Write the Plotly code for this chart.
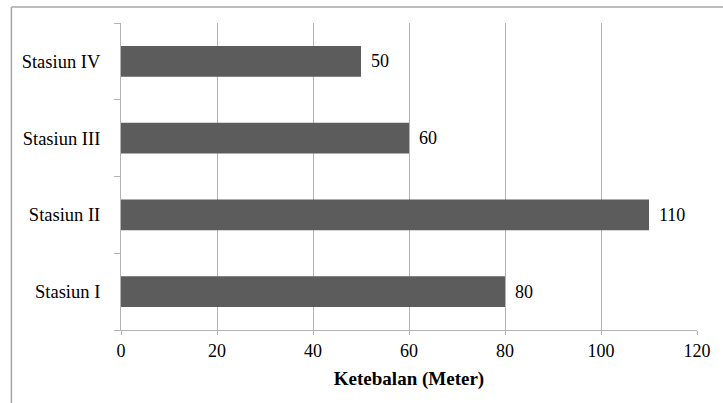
import plotly.graph_objects as go

# Ketebalan per stasiun (meter)
stations = ["Stasiun I", "Stasiun II", "Stasiun III", "Stasiun IV"]
thickness = [80, 110, 60, 50]
x_ticks = [0, 20, 40, 60, 80, 100, 120]

SERIF = "Liberation Serif, Times New Roman, serif"
BAR = "#5c5c5c"
GRID = "#b3b3b3"

fig = go.Figure(
    go.Bar(
        x=thickness,
        y=stations,
        orientation="h",
        marker=dict(color=BAR, line=dict(width=0)),
        width=0.4,
        hoverinfo="x+y",
    )
)

# value labels just past the end of each bar
for name, val in zip(stations, thickness):
    fig.add_annotation(
        x=val, y=name, text=str(val),
        xanchor="left", yanchor="middle", xshift=8,
        showarrow=False,
        font=dict(family=SERIF, size=18, color="#000000"),
    )

fig.update_layout(
    width=723,
    height=403,
    margin=dict(l=121, r=24, t=23, b=73),
    paper_bgcolor="white",
    plot_bgcolor="white",
    showlegend=False,
    font=dict(family=SERIF, size=18, color="#000000"),
    xaxis=dict(
        range=[0, 120],
        tickvals=x_ticks,
        showgrid=True,
        gridcolor=GRID,
        gridwidth=1,
        zeroline=False,
        showline=True,
        linecolor=GRID,
        linewidth=1,
        ticks="outside",
        ticklen=4,
        tickcolor=GRID,
        ticklabelstandoff=0,
        tickfont=dict(family=SERIF, size=18),
        title=dict(
            text="<b>Ketebalan (Meter)</b>",
            font=dict(family=SERIF, size=19),
            standoff=12,
        ),
    ),
    yaxis=dict(
        categoryorder="array",
        categoryarray=stations,
        showgrid=False,
        zeroline=False,
        showline=True,
        linecolor=GRID,
        linewidth=1,
        ticks="outside",
        tickson="boundaries",
        ticklen=6,
        tickcolor=GRID,
        ticklabelstandoff=16,
        tickfont=dict(family=SERIF, size=18.5),
    ),
    shapes=[
        # outer chart frame (left and top edges)
        dict(type="line", xref="paper", yref="paper",
             x0=-0.1903, x1=-0.1903, y0=-0.3, y1=1.0521,
             line=dict(color="#a6a6a6", width=1.5)),
        dict(type="line", xref="paper", yref="paper",
             x0=-0.1903, x1=1.1, y0=1.0521, y1=1.0521,
             line=dict(color="#a6a6a6", width=1.5)),
    ],
)

fig.write_html("out.html")
